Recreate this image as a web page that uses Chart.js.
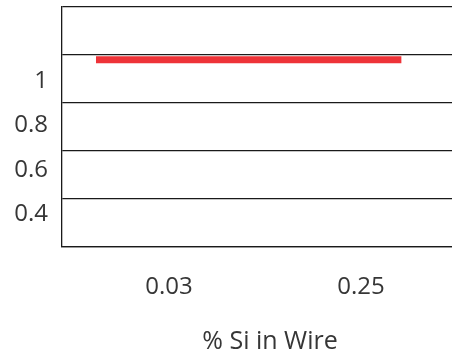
<!DOCTYPE html>
<html>
<head>
<meta charset="utf-8">
<script src="https://cdn.jsdelivr.net/npm/chart.js@4"></script>
<style>
  html, body { margin: 0; padding: 0; background: #fff; overflow: hidden; }
  /* plot runs past the right edge of the window, like the source image */
  #wrap { width: 478px; height: 360px; }
</style>
</head>
<body>
<div id="wrap"><canvas id="chart"></canvas></div>
<script>
// Categories on the x axis (placed at positions 1 and 2)
const categories = ['0.03', '0.25'];
const categoryPos = [1, 2];
// Red reference line: start/end along the category axis and its value
const lineX = [0.62, 2.21];
const lineY = [0.98, 0.98];
// Gridline values and the y tick labels (labels sit in their own, slightly tighter scale)
const yGrid = [0.2, 0.4, 0.6, 0.8, 1.0, 1.2];
const yLabelValues = [0.4, 0.6, 0.8, 1.0];
const yLabels = ['0.4', '0.6', '0.8', '1'];

const tickFont = { family: '"Open Sans", sans-serif', size: 24 };
const titleFont = { family: '"Open Sans", sans-serif', size: 25 };
const textColor = '#363636';
const gridColor = '#1a1a1a';

const ctx = document.getElementById('chart').getContext('2d');
new Chart(ctx, {
  type: 'line',
  data: {
    datasets: [{
      xAxisID: 'x',
      yAxisID: 'y',
      data: lineX.map((x, i) => ({ x, y: lineY[i] })),
      borderColor: '#ee3338',
      borderWidth: 7,
      borderCapStyle: 'butt',
      pointRadius: 0,
      fill: false
    }]
  },
  options: {
    responsive: true,
    maintainAspectRatio: false,
    animation: false,
    layout: { padding: { left: 14, top: 7, right: 0, bottom: 1 } },
    plugins: { legend: { display: false }, tooltip: { enabled: false } },
    scales: {
      x: {
        type: 'linear',
        min: 0.443,
        max: 2.609,
        afterBuildTicks: axis => { axis.ticks = categoryPos.map(v => ({ value: v })); },
        afterFit: axis => { axis.paddingLeft = 0; axis.paddingRight = 0; axis.height = 112; },
        ticks: {
          font: tickFont, color: textColor, padding: 26, maxRotation: 0,
          callback: v => categories[categoryPos.indexOf(v)] || ''
        },
        grid: { display: false, drawTicks: false },
        border: { display: true, color: gridColor, width: 1.3 },
        title: { display: true, text: '% Si in Wire', font: titleFont, color: textColor, padding: { top: 25, bottom: 2 } }
      },
      y: {
        position: 'left',
        weight: 0,
        min: 0.2,
        max: 1.2,
        afterBuildTicks: axis => { axis.ticks = yGrid.map(v => ({ value: v })); },
        afterFit: axis => { axis.paddingTop = 0; axis.paddingBottom = 0; axis.width = 0; },
        ticks: { display: false },
        grid: { color: gridColor, lineWidth: 1.3, drawTicks: false },
        border: { display: true, color: gridColor, width: 1.3 }
      },
      yl: {
        position: 'left',
        weight: 1,
        min: 0.2515,
        max: 1.334,
        afterBuildTicks: axis => { axis.ticks = yLabelValues.map(v => ({ value: v })); },
        afterFit: axis => { axis.paddingTop = 0; axis.paddingBottom = 0; axis.width = 48; },
        ticks: {
          font: tickFont, color: textColor, padding: 14,
          callback: v => yLabels[yLabelValues.findIndex(t => Math.abs(t - v) < 1e-6)] || ''
        },
        grid: { display: false, drawTicks: false },
        border: { display: false }
      }
    }
  }
});
</script>
</body>
</html>
